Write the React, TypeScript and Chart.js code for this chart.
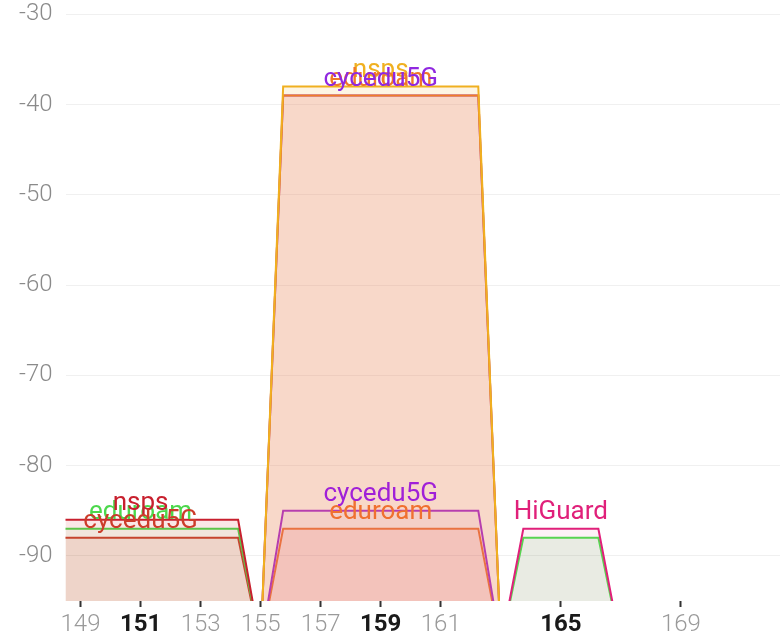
import React, { useEffect, useRef } from "react";
import { Chart, registerables } from "chart.js";

Chart.register(...registerables);

// Axis ticks
const channelTicks = [149, 151, 153, 155, 157, 159, 161, 165, 169];
const boldChannels = [151, 159, 165];
const dbmTicks = [-30, -40, -50, -60, -70, -80, -90];

// Networks (one entry per access point)
const ssids = ["nsps", "eduroam", "cycedu5G", "nsps", "eduroam", "cycedu5G", "cycedu5G", "eduroam", "HiGuard", ""];
const startChannels = [147, 147, 147, 155, 155, 155, 155, 155, 163, 163];
const endChannels = [155, 155, 155, 163, 163, 163, 163, 163, 167, 167];
const centerChannels = [151, 151, 151, 159, 159, 159, 159, 159, 165, 165];
const levels = [-86, -87, -88, -38, -39, -39, -85, -87, -87, -88];
const colors = [
  "#c8202e",
  "#4cd84c",
  "#cc3c2a",
  "#f0b020",
  "#f07828",
  "#9028e0",
  "#a020d8",
  "#f07030",
  "#e0207a",
  "#50e050",
];
const fillColors = [
  "rgba(220,60,60,0.12)",
  "rgba(80,210,80,0.07)",
  "rgba(220,90,60,0.12)",
  "rgba(240,170,30,0.12)",
  "rgba(240,110,110,0.2)",
  "rgba(150,40,220,0.02)",
  "rgba(160,32,216,0.06)",
  "rgba(240,100,100,0.12)",
  "rgba(224,32,122,0.06)",
  "rgba(80,200,80,0.12)",
];
const labelDrawOrder = [1, 0, 2, 3, 4, 5, 7, 6, 9, 8];

const FLOOR_DBM = -100;
const EDGE = 0.75;

const labelPlugin = {
  id: "ssidLabels",
  afterDatasetsDraw(chart: any) {
    const { ctx, scales } = chart;
    const x = scales.x;
    const y = scales.y;
    ctx.save();
    ctx.font = "400 26px Roboto";
    ctx.textAlign = "center";
    ctx.textBaseline = "alphabetic";
    for (const i of labelDrawOrder) {
      if (!ssids[i]) continue;
      ctx.fillStyle = colors[i];
      ctx.fillText(ssids[i], x.getPixelForValue(centerChannels[i]), y.getPixelForValue(levels[i]) - 10);
    }
    ctx.restore();
  },
};

export default function App() {
  const ref = useRef<HTMLCanvasElement | null>(null);

  useEffect(() => {
    document.body.style.margin = "0";
    if (!ref.current) return;
    const datasets = ssids.map((name, i) => ({
      label: name || "hidden",
      data: [
        { x: startChannels[i], y: FLOOR_DBM },
        { x: startChannels[i] + EDGE, y: levels[i] },
        { x: endChannels[i] - EDGE, y: levels[i] },
        { x: endChannels[i], y: FLOOR_DBM },
      ],
      borderColor: colors[i],
      backgroundColor: fillColors[i],
      borderWidth: 2,
      pointRadius: 0,
      tension: 0,
      fill: "start",
    }));

    const chart = new Chart(ref.current, {
      type: "line",
      data: { datasets },
      options: {
        animation: false,
        responsive: false,
        layout: { padding: { left: 6, right: 0, top: 0, bottom: -6 } },
        plugins: {
          legend: { display: false },
          tooltip: { enabled: false },
        },
        scales: {
          x: {
            type: "linear",
            min: 148.5,
            max: 172.3,
            afterBuildTicks: (axis: any) => {
              axis.ticks = channelTicks.map((v) => ({ value: v }));
            },
            border: { display: false },
            grid: {
              drawOnChartArea: false,
              drawTicks: true,
              tickLength: 6,
              tickWidth: 2,
              tickColor: "#333",
            },
            ticks: {
              autoSkip: false,
              maxRotation: 0,
              padding: 6,
              callback: (v: any) => String(v),
              color: (c: any) => (boldChannels.includes(c.tick?.value) ? "#1a1a1a" : "#9a9a9a"),
              font: (c: any) => ({
                family: "Roboto",
                size: 24,
                weight: boldChannels.includes(c.tick?.value) ? "bold" : "300",
                lineHeight: 1,
              }),
            },
          },
          y: {
            type: "linear",
            min: -95,
            max: -30,
            afterBuildTicks: (axis: any) => {
              axis.ticks = dbmTicks.map((v) => ({ value: v }));
            },
            border: { display: false },
            grid: { color: "#f0f0f0", lineWidth: 1, drawTicks: false },
            ticks: {
              padding: 13,
              color: "#8a8a8a",
              font: { family: "Roboto", size: 24, weight: "300" },
            },
          },
        },
      },
      plugins: [labelPlugin],
    });
    return () => chart.destroy();
  }, []);

  return (
    <div style={{ width: 780, height: 635, overflow: "hidden" }}>
      <canvas ref={ref} width={780} height={650} style={{ display: "block", marginTop: -13 }} />
    </div>
  );
}
